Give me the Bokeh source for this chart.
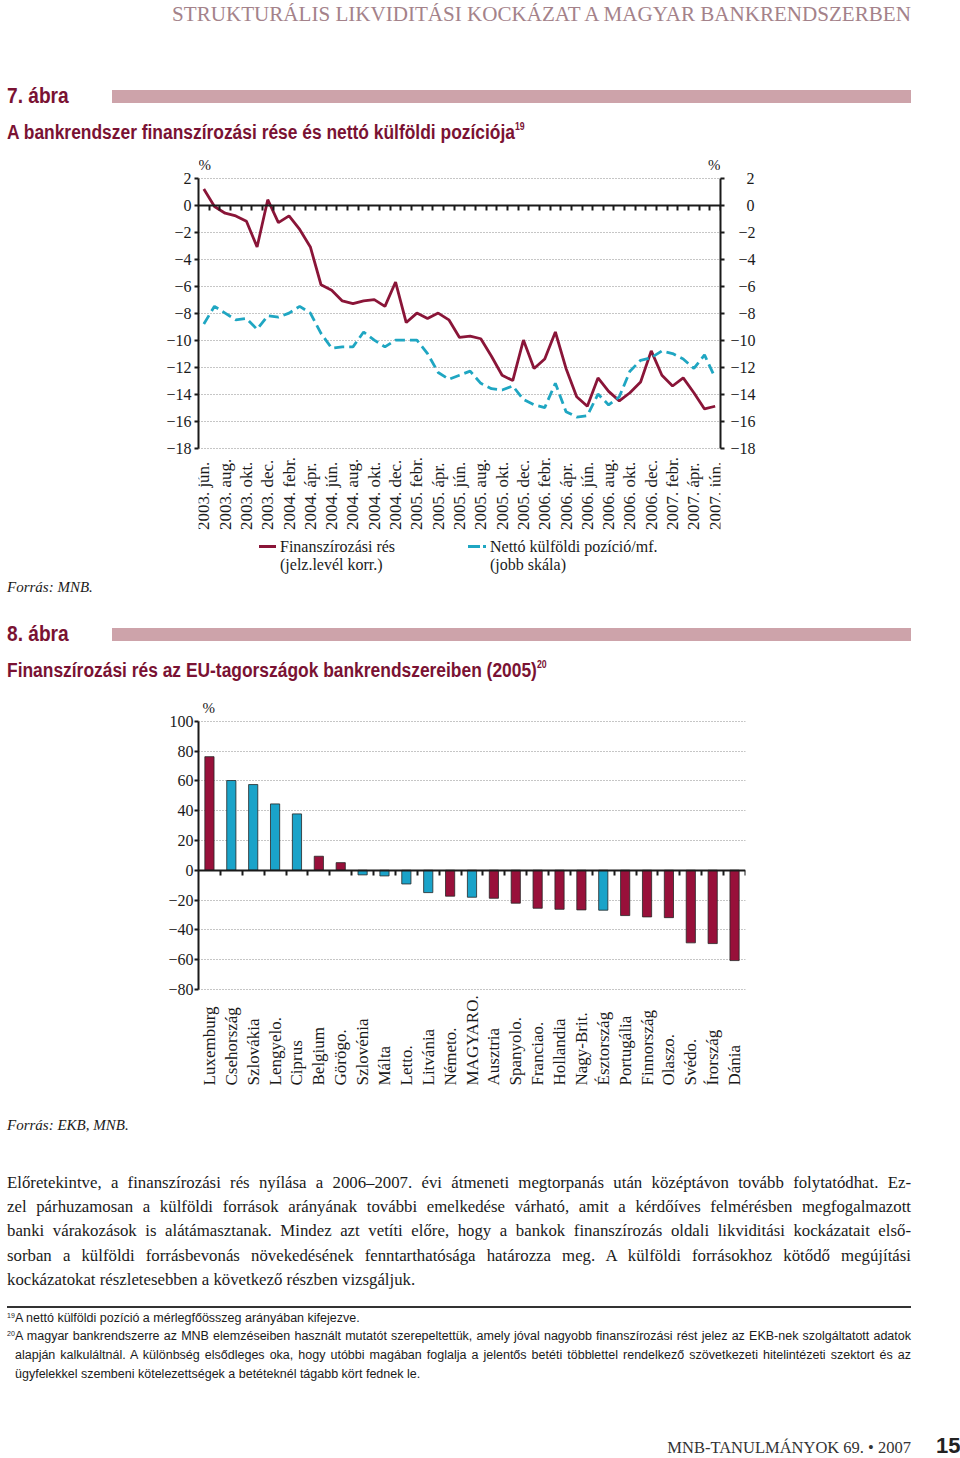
import numpy as np
from bokeh.plotting import figure
from bokeh.models import (ColumnDataSource, Range1d, LinearAxis, FixedTicker, Grid,
                          Label, Div, CustomJSTickFormatter)
from bokeh.core.properties import value
from bokeh.layouts import column
from bokeh.embed import file_html
from bokeh.resources import INLINE

# ---------------- data: chart 7 ----------------
MONTH_LABELS = ["2003. jún.", "2003. aug.", "2003. okt.", "2003. dec.",
                "2004. febr.", "2004. ápr.", "2004. jún.", "2004. aug.", "2004. okt.", "2004. dec.",
                "2005. febr.", "2005. ápr.", "2005. jún.", "2005. aug.", "2005. okt.", "2005. dec.",
                "2006. febr.", "2006. ápr.", "2006. jún.", "2006. aug.", "2006. okt.", "2006. dec.",
                "2007. febr.", "2007. ápr.", "2007. jún."]
FIN_GAP = [1.2, -0.1, -0.6, -0.8, -1.2, -3.1, 0.4, -1.3, -0.8, -1.8,
           -3.1, -5.9, -6.3, -7.1, -7.3, -7.1, -7.0, -7.5, -5.7, -8.7,
           -8.0, -8.4, -8.0, -8.5, -9.8, -9.7, -9.9, -11.2, -12.6, -13.0,
           -10.0, -12.1, -11.4, -9.4, -12.1, -14.2, -14.9, -12.8, -13.8, -14.5,
           -13.9, -13.1, -10.8, -12.6, -13.4, -12.8, -13.9, -15.1, -14.9]
NET_FOREIGN = [-8.8, -7.5, -8.0, -8.5, -8.4, -9.2, -8.2, -8.3, -8.0, -7.5,
               -8.0, -9.5, -10.6, -10.5, -10.5, -9.4, -10.0, -10.5, -10.0, -10.0,
               -10.0, -11.0, -12.4, -12.9, -12.6, -12.3, -13.2, -13.6, -13.7, -13.4,
               -14.4, -14.8, -15.0, -13.2, -15.3, -15.7, -15.6, -14.0, -14.8, -14.2,
               -12.3, -11.5, -11.3, -10.8, -11.0, -11.4, -12.1, -11.1, -12.8]
Y1_TICKS = [-18, -16, -14, -12, -10, -8, -6, -4, -2, 0, 2]
LEGEND1 = [("Finanszírozási rés", "(jelz.levél korr.)"),
           ("Nettó külföldi pozíció/mf.", "(jobb skála)")]

# ---------------- data: chart 8 ----------------
COUNTRIES = ["Luxemburg", "Csehország", "Szlovákia", "Lengyelo.", "Ciprus", "Belgium",
             "Görögo.", "Szlovénia", "Málta", "Letto.", "Litvánia", "Németo.", "MAGYARO.",
             "Ausztria", "Spanyolo.", "Franciao.", "Hollandia", "Nagy-Brit.", "Észtország",
             "Portugália", "Finnország", "Olaszo.", "Svédo.", "Írország", "Dánia"]
GAP_2005 = [76.2, 60.2, 57.5, 44.5, 37.8, 9.4, 5.1, -3.1, -3.8, -9.2, -15.0, -17.4, -18.1,
            -18.8, -22.1, -25.5, -26.2, -26.6, -26.8, -30.4, -31.3, -31.8, -48.7, -49.2, -60.6]
NEW_MEMBER = [False, True, True, True, True, False, False, True, True, True, True, False, True,
              False, False, False, False, False, True, False, False, False, False, False, False]
Y2_TICKS = [-80, -60, -40, -20, 0, 20, 40, 60, 80, 100]

# ---------------- style ----------------
SERIF = "Liberation Serif"
SANS = "'Liberation Sans Narrow', 'Liberation Sans', sans-serif"
INK = "#1a1a1a"
MAROON = "#8a1538"
BAR_MAROON = "#98103a"
CYAN_LINE = "#1fa6c2"
BAR_CYAN = "#1aa3c9"
TITLE_C = "#7a1233"
PINK = "#cda3aa"
HEADER_C = "#a4828a"
GRID_C = "#8c8c8c"
W = 956
LEFT = 198


def minus(v):
    return f"\u2212{abs(v)}" if v < 0 else f"{v}"


def pad_right(v):
    s = minus(v)
    return "\u2007" * (3 - len(s)) + s


def style_axis(ax, size="16px"):
    ax.axis_line_width = 2
    ax.axis_line_color = INK
    ax.major_tick_line_width = 2
    ax.major_tick_line_color = INK
    ax.major_tick_in = 0
    ax.major_tick_out = 4
    ax.minor_tick_line_color = None
    ax.major_label_text_font = SERIF
    ax.major_label_text_font_size = size
    ax.major_label_text_color = INK


def hide_default_grids(p):
    for g in p.select(type=Grid):
        g.visible = False


# ================= chart 7 =================
# frame: page y 150..534 ; y=2 at page 177.6, y=-18 at page 448
F1_W, F1_H, F1_BB = 522, 384, 12
u1 = (Y1_TICKS[-1] - Y1_TICKS[0]) / 270.0
Y1_HI = Y1_TICKS[-1] + 27.6 * u1
Y1_LO = Y1_HI - F1_H * u1
p1 = figure(frame_width=F1_W, frame_height=F1_H,
            x_range=Range1d(-0.5, len(FIN_GAP) - 0.5), y_range=Range1d(Y1_LO, Y1_HI),
            x_axis_location=None, y_axis_location=None,
            min_border_left=LEFT, min_border_right=W - LEFT - F1_W, min_border_top=0,
            min_border_bottom=F1_BB,
            output_backend="svg", toolbar_location=None, outline_line_color=None)
hide_default_grids(p1)
p1.extra_y_ranges = {"right": Range1d(Y1_LO, Y1_HI)}
p1.add_layout(Grid(dimension=1, ticker=FixedTicker(ticks=Y1_TICKS), grid_line_color=GRID_C,
                   grid_line_dash="1 2", grid_line_width=1))

axl = LinearAxis(ticker=FixedTicker(ticks=Y1_TICKS), bounds=(Y1_TICKS[0], Y1_TICKS[-1]),
                 major_label_overrides={t: minus(t) for t in Y1_TICKS}, major_label_standoff=3)
style_axis(axl)
p1.add_layout(axl, "left")
axr = LinearAxis(y_range_name="right", ticker=FixedTicker(ticks=Y1_TICKS),
                 bounds=(Y1_TICKS[0], Y1_TICKS[-1]),
                 major_label_overrides={t: pad_right(t) for t in Y1_TICKS}, major_label_standoff=6)
style_axis(axr)
p1.add_layout(axr, "right")
ax0 = LinearAxis(fixed_location=0, ticker=FixedTicker(ticks=list(np.arange(len(FIN_GAP)) + 0.5)),
                 formatter=CustomJSTickFormatter(code="return ''"), major_label_standoff=0)
style_axis(ax0)
ax0.major_label_text_font_size = "1px"
ax0.major_tick_out = 5
p1.add_layout(ax0, "below")

xm = np.arange(len(FIN_GAP))
p1.line(xm, FIN_GAP, line_color=MAROON, line_width=2.8)
p1.line(xm, NET_FOREIGN, y_range_name="right", line_color=CYAN_LINE, line_width=2.8, line_dash="10 5")

lab1 = ColumnDataSource(dict(x=xm[::2], y=[Y1_TICKS[0] - 82 * u1] * len(MONTH_LABELS),
                             text=MONTH_LABELS))
p1.text(x="x", y="y", text="text", source=lab1, angle=np.pi / 2,
        text_align="left", text_baseline="middle", text_font=value(SERIF),
        text_font_size="17px", text_color=INK)
p1.add_layout(Label(x=-0.5, y=Y1_TICKS[-1], text="%", text_align="left", text_baseline="bottom",
                    y_offset=5, text_font=SERIF, text_font_size="15px", text_color=INK))
p1.add_layout(Label(x=len(FIN_GAP) - 0.5, y=Y1_TICKS[-1], text="%", text_align="right",
                    text_baseline="bottom", y_offset=5, text_font=SERIF, text_font_size="15px",
                    text_color=INK))

# ================= chart 8 =================
# frame: page y 700..1090 ; y=100 at page 720.7, y=-80 at page 989
F2_W, F2_H, F2_BB = 547, 390, 12
n = len(COUNTRIES)
u2 = (Y2_TICKS[-1] - Y2_TICKS[0]) / 268.3
Y2_HI = Y2_TICKS[-1] + 20.7 * u2
Y2_LO = Y2_HI - F2_H * u2
p2 = figure(frame_width=F2_W, frame_height=F2_H,
            x_range=Range1d(0, n), y_range=Range1d(Y2_LO, Y2_HI),
            x_axis_location=None, y_axis_location=None,
            min_border_left=LEFT, min_border_right=W - LEFT - F2_W, min_border_top=0,
            min_border_bottom=F2_BB,
            output_backend="svg", toolbar_location=None, outline_line_color=None)
hide_default_grids(p2)
p2.add_layout(Grid(dimension=1, ticker=FixedTicker(ticks=Y2_TICKS), grid_line_color=GRID_C,
                   grid_line_dash="1 2", grid_line_width=1))
ay2 = LinearAxis(ticker=FixedTicker(ticks=Y2_TICKS), bounds=(Y2_TICKS[0], Y2_TICKS[-1]),
                 major_label_overrides={t: minus(t) for t in Y2_TICKS}, major_label_standoff=1)
style_axis(ay2)
p2.add_layout(ay2, "left")
ax20 = LinearAxis(fixed_location=0, ticker=FixedTicker(ticks=list(range(1, n + 1))),
                  formatter=CustomJSTickFormatter(code="return ''"), major_label_standoff=0)
style_axis(ax20)
ax20.major_label_text_font_size = "1px"
ax20.major_tick_out = 5
p2.add_layout(ax20, "below")

xc = np.arange(n) + 0.5
src2 = ColumnDataSource(dict(x=xc, top=GAP_2005,
                             color=[BAR_CYAN if m else BAR_MAROON for m in NEW_MEMBER]))
p2.vbar(x="x", top="top", bottom=0, width=0.42, fill_color="color", line_color="#262626",
        line_width=0.8, source=src2)
lab2 = ColumnDataSource(dict(x=xc, y=[Y2_TICKS[0] - 96 * u2] * n, text=COUNTRIES))
p2.text(x="x", y="y", text="text", source=lab2, angle=np.pi / 2,
        text_align="left", text_baseline="middle", text_font=value(SERIF),
        text_font_size="17px", text_color=INK)
p2.add_layout(Label(x=0, y=Y2_TICKS[-1], text="%", text_align="left", text_baseline="bottom",
                    x_offset=4, y_offset=5, text_font=SERIF, text_font_size="15px", text_color=INK))


# ================= page texts =================
def txt(x, cy, s, size, y0, family=SERIF, color=INK, weight="normal", style="normal",
        align="left", sx=1.0, lh=1.25):
    top = cy - y0 - size * lh / 2
    if align == "left":
        pos, origin = f"left:{x}px;", "left"
    else:
        pos, origin = f"right:{W - x}px;", "right"
    tr = f"transform:scaleX({sx});transform-origin:{origin} center;" if sx != 1 else ""
    return (f'<div style="position:absolute;{pos}top:{top:.1f}px;font-family:{family};'
            f'font-size:{size}px;line-height:{size * lh:.1f}px;color:{color};font-weight:{weight};'
            f'font-style:{style};white-space:nowrap;{tr}">{s}</div>')


def jline(x0, x1, cy, s, size, y0, family=SERIF, color=INK, last=False, lh=1.25):
    top = cy - y0 - size * lh / 2
    return (f'<div style="position:absolute;left:{x0}px;width:{x1 - x0}px;top:{top:.1f}px;'
            f'font-family:{family};font-size:{size}px;line-height:{size * lh:.1f}px;color:{color};'
            f'text-align:justify;text-align-last:{"left" if last else "justify"};">{s}</div>')


def rect(x, y, w, h, color, y0):
    return (f'<div style="position:absolute;left:{x}px;top:{y - y0}px;width:{w}px;'
            f'height:{h}px;background:{color};"></div>')


def page_div(parts, h):
    html = f'<div style="position:relative;width:{W}px;height:{h}px;">' + "".join(parts) + "</div>"
    return Div(text=html, width=W, height=h, styles={"margin": "0", "padding": "0"})


SUP = '<span style="font-size:0.5em;vertical-align:0.9em;">{}</span>'
TSX = 0.87  # horizontal condensing of the bold title face

# header + figure 7 title (page y 0..150)
y0 = 0
d1 = page_div([
    txt(911, 14, "STRUKTURÁLIS LIKVIDITÁSI KOCKÁZAT A MAGYAR BANKRENDSZERBEN", 21.5, y0,
        color=HEADER_C, align="right", sx=0.98),
    txt(7, 96, "7. ábra", 22, y0, family=SANS, color=TITLE_C, weight="bold", sx=TSX),
    rect(112, 90, 799, 13, PINK, y0),
    txt(7, 126, "A bankrendszer finanszírozási rése és nettó külföldi pozíciója" + SUP.format("19"),
        20, y0, family=SANS, color=TITLE_C, weight="bold", sx=TSX),
], 150)

# legend + source + figure 8 title (page y 546..700)
y0 = 546
d2 = page_div([
    rect(259, 545, 17, 3, MAROON, y0),
    txt(280, 547, LEGEND1[0][0], 16, y0),
    txt(280, 565, LEGEND1[0][1], 16, y0),
    rect(468, 545, 12, 3, CYAN_LINE, y0),
    rect(483, 545, 3, 3, CYAN_LINE, y0),
    txt(490, 547, LEGEND1[1][0], 16, y0),
    txt(490, 565, LEGEND1[1][1], 16, y0),
    txt(7, 587, "Forrás: MNB.", 15, y0, style="italic"),
    txt(7, 634, "8. ábra", 22, y0, family=SANS, color=TITLE_C, weight="bold", sx=TSX),
    rect(112, 628, 799, 13, PINK, y0),
    txt(7, 664, "Finanszírozási rés az EU-tagországok bankrendszereiben (2005)" + SUP.format("20"),
        20, y0, family=SANS, color=TITLE_C, weight="bold", sx=TSX),
], 154)

# source, body text, footnotes, footer (page y 1102..1450)
y0 = 1102
PARA = ["Előretekintve, a finanszírozási rés nyílása a 2006–2007. évi átmeneti megtorpanás után középtávon tovább folytatódhat. Ez-",
        "zel párhuzamosan a külföldi források arányának további emelkedése várható, amit a kérdőíves felmérésben megfogalmazott",
        "banki várakozások is alátámasztanak. Mindez azt vetíti előre, hogy a bankok finanszírozás oldali likviditási kockázatait első-",
        "sorban a külföldi forrásbevonás növekedésének fenntarthatósága határozza meg. A külföldi forrásokhoz kötődő megújítási",
        "kockázatokat részletesebben a következő részben vizsgáljuk."]
PARA_Y = [1182, 1206, 1230, 1255, 1279]
FN20 = ["A magyar bankrendszerre az MNB elemzéseiben használt mutatót szerepeltettük, amely jóval nagyobb finanszírozási rést jelez az EKB-nek szolgáltatott adatok",
        "alapján kalkuláltnál. A különbség elsődleges oka, hogy utóbbi magában foglalja a jelentős betéti többlettel rendelkező szövetkezeti hitelintézeti szektort és az",
        "ügyfelekkel szembeni kötelezettségek a betéteknél tágabb kört fednek le."]
FN_Y = [1337, 1356, 1375]
parts3 = [txt(7, 1125, "Forrás: EKB, MNB.", 15, y0, style="italic")]
for i, (s, cy) in enumerate(zip(PARA, PARA_Y)):
    parts3.append(jline(7, 911, cy, s, 16.8, y0, last=(i == len(PARA) - 1)))
parts3.append(rect(7, 1306, 904, 2, "#333333", y0))
parts3.append(txt(7, 1316, "19", 7, y0, family=SANS))
parts3.append(txt(15, 1319, "A nettó külföldi pozíció a mérlegfőösszeg arányában kifejezve.", 12.5, y0,
                  family=SANS))
parts3.append(txt(7, 1334, "20", 7, y0, family=SANS))
for i, (s, cy) in enumerate(zip(FN20, FN_Y)):
    parts3.append(jline(15, 911, cy, s, 12.5, y0, family=SANS, last=(i == len(FN20) - 1)))
parts3.append(txt(911, 1448, "MNB-TANULMÁNYOK 69. • 2007", 16.5, y0, color="#333333", align="right"))
parts3.append(txt(936, 1446, "15", 22, y0, family=SANS, weight="bold", color="#222222"))
d3 = page_div(parts3, 348)

page = column(d1, p1, d2, p2, d3, spacing=0)
with open("out.html", "w") as f:
    f.write(file_html(page, INLINE, title="7-8. ábra"))
